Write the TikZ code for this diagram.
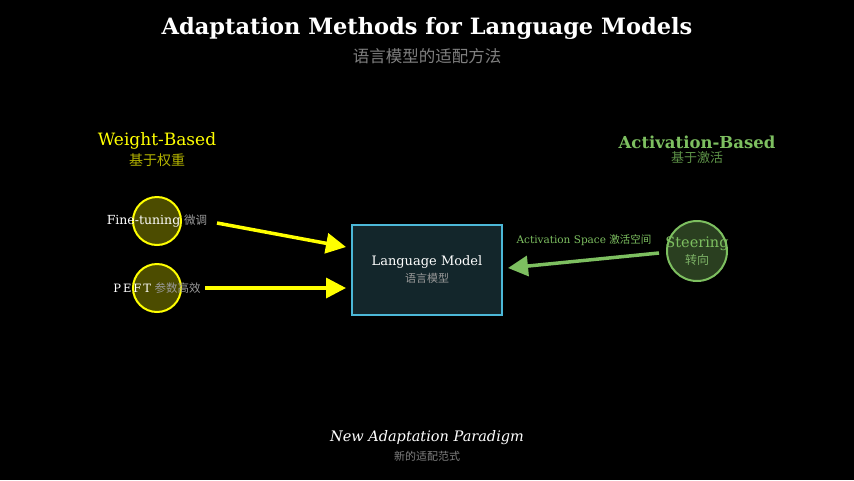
\documentclass[tikz,border=0pt]{standalone}
\usepackage{fontspec}
\setmainfont{DejaVu Serif}
\newfontfamily\cjk{Noto Sans CJK SC}
\usetikzlibrary{arrows.meta}
\definecolor{ylw}{HTML}{FFFF00}
\definecolor{dylw}{HTML}{B3B300}
\definecolor{grn}{HTML}{7DBF60}
\definecolor{dgrn}{HTML}{5E9448}
\definecolor{cy}{HTML}{4CB8D8}
\begin{document}
\begin{tikzpicture}[x=1pt,y=-1pt,
  circ/.style={circle,draw,line width=2pt,inner sep=0pt},
  wcirc/.style={circ,minimum size=48pt,draw=ylw,fill=ylw!30!black},
  yarr/.style={draw=ylw,line width=3.5pt,-{Triangle[length=20pt,width=20pt]}},
  garr/.style={draw=grn,line width=3.5pt,-{Triangle[length=20pt,width=20pt]}}]
\fill[black] (0,0) rectangle (854,480);
\node (title) at (427,28) {\color{white}\bfseries\fontsize{22.5}{26}\selectfont Adaptation Methods for Language Models};
\node (sub) at (427,56) {\cjk\fontsize{16.5}{19}\selectfont\color{gray} 语言模型的适配方法};
\node (wb) at (157,141) {\color{ylw}\fontsize{17}{20}\selectfont Weight-Based};
\node (wbc) at (157,160) {\cjk\fontsize{14}{16}\selectfont\color{dylw} 基于权重};
\node (ab) at (697,142) {\color{grn}\bfseries\fontsize{16.5}{19}\selectfont Activation-Based};
\node (abc) at (697,158) {\cjk\fontsize{13}{15}\selectfont\color{dgrn} 基于激活};
\node[wcirc] (ft) at (157,221) {};
\node[wcirc] (pe) at (157,288) {};
\node (ftl) at (157,221) {\color{white}\fontsize{12.5}{14}\selectfont Fine-tuning {\cjk\color{gray!80}\fontsize{11.5}{13}\selectfont 微调}};
\node (pel) at (157,288) {\color{white}\fontsize{11.5}{13}\selectfont P\,E\,F\,T {\cjk\color{gray!80}\fontsize{11.5}{13}\selectfont 参数高效}};
\node[draw=cy,line width=2pt,fill={rgb,255:red,19;green,38;blue,43},minimum width=150pt,minimum height=90pt] (lm) at (427,270) {};
\node (lml) at (427,262) {\color{white}\fontsize{13}{15}\selectfont Language Model};
\node (lmc) at (427,278) {\cjk\fontsize{11}{13}\selectfont\color{gray!80} 语言模型};
\node[circ,minimum size=60pt,draw=grn,fill={rgb,255:red,42;green,63;blue,32}] (st) at (697,251) {};
\node (stl) at (697,244) {\color{grn}\fontsize{14.5}{16}\selectfont Steering};
\node (stc) at (697,260) {\cjk\fontsize{12}{14}\selectfont\color{grn!80!gray} 转向};
\coordinate (f0) at (217,223); \coordinate (f1) at (346,247);
\coordinate (p0) at (205,288); \coordinate (p1) at (346,288);
\coordinate (s0) at (659,253); \coordinate (s1) at (508,268);
\draw[yarr] (f0) -- (f1);
\draw[yarr] (p0) -- (p1);
\draw[garr] (s0) -- (s1);
\node (asl) at (584,240) {\color{grn}\fontsize{10.5}{12}\selectfont Activation Space {\cjk 激活空间}};
\node (np) at (427,438) {\color{white}\itshape\fontsize{14.5}{17}\selectfont New Adaptation Paradigm};
\node (npc) at (427,456) {\cjk\fontsize{11}{13}\selectfont\color{gray} \textit{新的适配范式}};
\end{tikzpicture}
\end{document}
